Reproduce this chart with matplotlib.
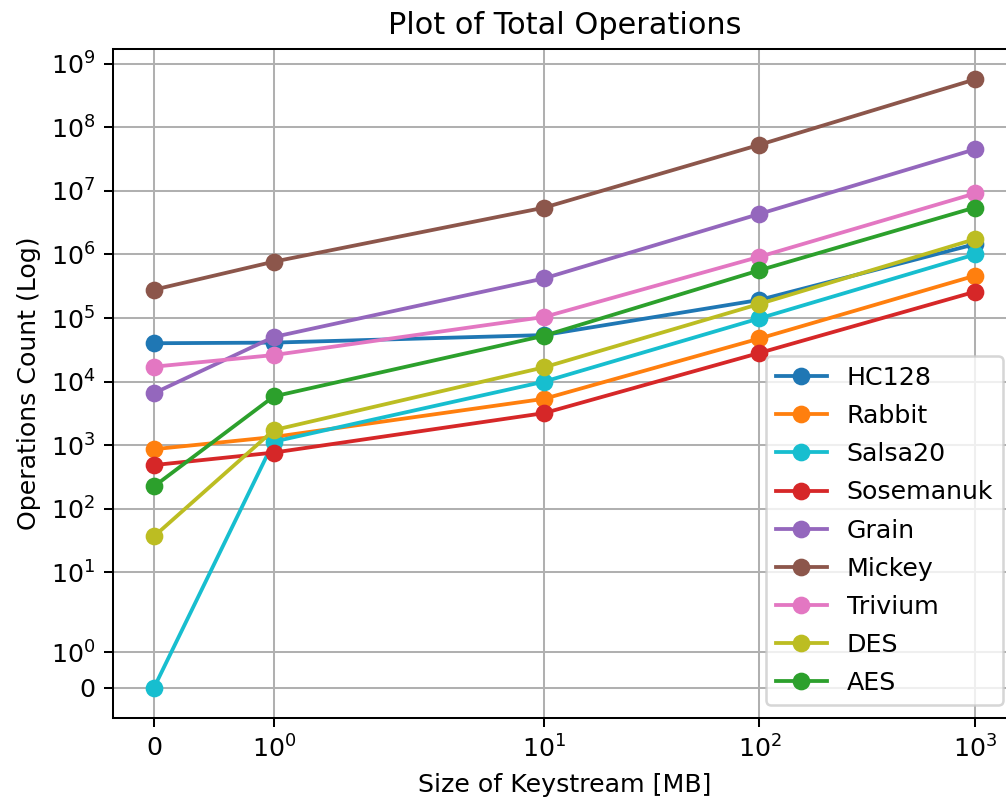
import matplotlib
matplotlib.use("Agg")
import matplotlib.pyplot as plt

# Keystream sizes in MB
sizes = [0, 1, 10, 100, 1000]

# Total operation counts per cipher
hc128 = [40200, 41100, 54000, 193000, 1450000]
rabbit = [867, 1350, 5370, 47700, 463000]
salsa20 = [0, 1140, 10000, 99000, 1000000]
sosemanuk = [488, 767, 3200, 28300, 259000]
grain = [6600, 50400, 420000, 4340000, 45000000]
mickey = [279000, 770000, 5440000, 53000000, 565000000]
trivium = [17200, 26200, 104000, 920000, 9100000]
des = [37, 1730, 16800, 167000, 1740000]
aes = [226, 5860, 52700, 564000, 5470000]

series = [
    ("HC128", hc128, "C0"),
    ("Rabbit", rabbit, "C1"),
    ("Salsa20", salsa20, "C9"),
    ("Sosemanuk", sosemanuk, "C3"),
    ("Grain", grain, "C4"),
    ("Mickey", mickey, "C5"),
    ("Trivium", trivium, "C6"),
    ("DES", des, "C8"),
    ("AES", aes, "C2"),
]

W, H, DPI = 1006, 809, 182
fig = plt.figure(figsize=(W / DPI, H / DPI), dpi=DPI)
left, right, top, bottom = 113, 1016, 49, 718
ax = fig.add_axes([left / W, 1 - bottom / H, (right - left) / W, (bottom - top) / H])

for name, vals, color in series:
    ax.plot(sizes, vals, marker="o", color=color, label=name)

ax.set_xscale("symlog")
ax.set_yscale("symlog")
ax.grid(True)
ax.set_title("Plot of Total Operations")
ax.set_xlabel("Size of Keystream [MB]")
ax.set_ylabel("Operations Count (Log)")
ax.legend(loc="lower right", labelspacing=0.56)

fig.savefig("out.png", dpi=DPI)
